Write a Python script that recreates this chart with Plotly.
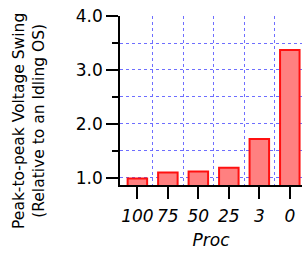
import plotly.graph_objects as go

categories = ["100", "75", "50", "25", "3", "0"]
values = [0.99, 1.10, 1.12, 1.19, 1.72, 3.37]
ytick_vals = [1, 2, 3, 4]
ytick_text = ["1.0", "2.0", "3.0", "4.0"]
y_title = "Peak-to-peak Voltage Swing<br>(Relative to an Idling OS)"

font_family = "DejaVu Sans, Verdana, sans-serif"
grid_color = "rgb(110,110,255)"

fig = go.Figure()
fig.add_trace(go.Bar(
    x=list(range(len(categories))),
    y=values,
    width=0.64,
    marker=dict(color="#FF8080", line=dict(color="#FF1010", width=2)),
    showlegend=False,
    hoverinfo="skip",
))

fig.update_layout(
    width=302, height=255,
    margin=dict(l=120, r=0, t=16, b=70),
    paper_bgcolor="white", plot_bgcolor="white",
    font=dict(family=font_family, color="black"),
)

fig.update_xaxes(
    range=[-0.57, 5.4],
    tickvals=list(range(len(categories))),
    ticktext=["<i>%s</i>" % c for c in categories],
    tickfont=dict(size=17, family=font_family),
    ticks="outside", ticklen=12, tickwidth=1.5, tickcolor="black",
    ticklabelstandoff=3,
    showline=True, linecolor="black", linewidth=1.5,
    showgrid=False, zeroline=False,
    minor=dict(tickvals=[0.5, 1.5, 2.5, 3.5, 4.5], showgrid=True,
               gridcolor=grid_color, griddash="dot", gridwidth=1, ticks=""),
    title=dict(text="<i>Proc</i>", font=dict(size=17), standoff=9),
)

fig.update_yaxes(
    range=[0.87, 4.0],
    tickvals=ytick_vals,
    ticktext=ytick_text,
    tickfont=dict(size=17, family=font_family),
    ticks="outside", ticklen=12, tickwidth=1.5, tickcolor="black",
    showline=True, linecolor="black", linewidth=1.5,
    showgrid=True, gridcolor=grid_color, griddash="dot", gridwidth=1,
    zeroline=False,
    minor=dict(dtick=0.5, tick0=0, showgrid=True, gridcolor=grid_color,
               griddash="dot", gridwidth=1, ticks="outside", ticklen=6,
               tickwidth=1.5, tickcolor="black"),
)

fig.add_annotation(
    text=y_title, textangle=-90,
    xref="paper", yref="paper", x=-0.5, y=0.379,
    xanchor="center", yanchor="middle",
    showarrow=False, font=dict(size=15.5, family=font_family),
)

fig.write_html("out.html",
               config={"displayModeBar": False},
               post_script="document.body.style.margin='0px';document.body.style.overflow='hidden';")
